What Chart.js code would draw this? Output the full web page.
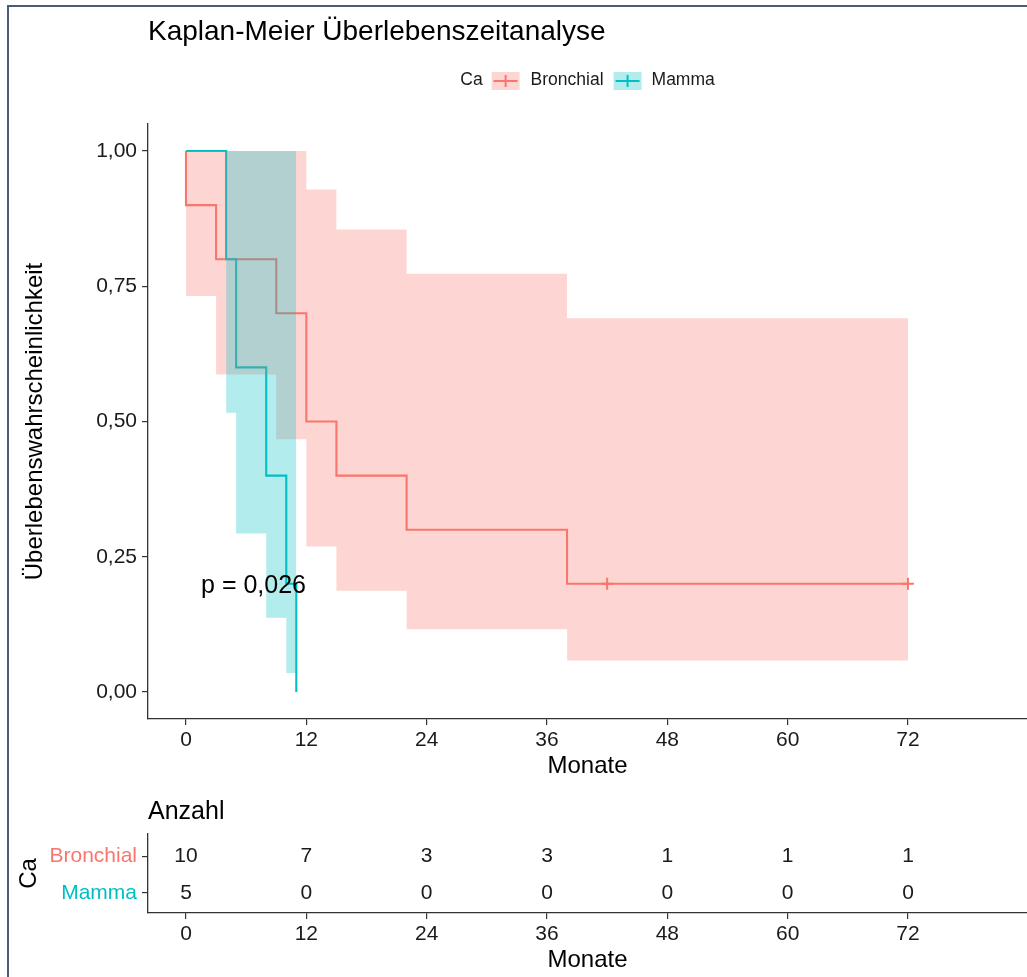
<!DOCTYPE html>
<html><head><meta charset="utf-8">
<script src="https://cdn.jsdelivr.net/npm/chart.js@4.4.1/dist/chart.umd.min.js"></script>
<style>
html,body{margin:0;padding:0;background:#fff;}
body{width:1027px;height:977px;position:relative;overflow:hidden;}
#frame{position:absolute;left:7px;top:5px;width:1100px;height:1100px;border-left:2px solid #4b5b73;border-top:2px solid #4b5b73;}
#main{position:absolute;left:0;top:0;}
#risk{position:absolute;left:0;top:790px;}
</style></head><body>
<div id="frame"></div>
<canvas id="main" width="1027" height="790"></canvas>
<canvas id="risk" width="1027" height="187"></canvas>
<script>
// ---------- data ----------
const chartTitle = 'Kaplan-Meier Überlebenszeitanalyse';
const legendTitle = 'Ca';
const groups = ['Bronchial', 'Mamma'];
const groupColors = ['#F8766D', '#00BFC4'];
const bandColors = ['rgba(248,118,109,0.3)', 'rgba(0,191,196,0.3)'];

const bronchialTimes = [0, 0, 3, 9, 12, 15, 22, 38, 72];
const bronchialSurv  = [1, 0.9, 0.8, 0.7, 0.5, 0.4, 0.3, 0.2, 0.2];
const bronchialBandTimes = [0, 3, 9, 12, 15, 22, 38, 72];
const bronchialUpper = [1, 1, 1, 0.929, 0.855, 0.773, 0.691, 0.691];
const bronchialLower = [0.732, 0.587, 0.467, 0.269, 0.187, 0.116, 0.058, 0.058];
const bronchialCensorTimes = [42, 72];
const bronchialCensorSurv  = [0.2, 0.2];

const mammaTimes = [0, 4, 5, 8, 10, 11];
const mammaSurv  = [1, 0.8, 0.6, 0.4, 0.2, 0];
const mammaBandTimes = [4, 5, 8, 10, 11];
const mammaUpper = [1, 1, 1, 1, 1];
const mammaLower = [0.516, 0.293, 0.137, 0.035, 0.035];

const xTicks = [0, 12, 24, 36, 48, 60, 72];
const xTickLabels = ['0', '12', '24', '36', '48', '60', '72'];
const yTicks = [0, 0.25, 0.5, 0.75, 1];
const yTickLabels = ['0,00', '0,25', '0,50', '0,75', '1,00'];
const xTitle = 'Monate';
const yTitle = 'Überlebenswahrscheinlichkeit';

const riskTitle = 'Anzahl';
const riskBronchial = [10, 7, 3, 3, 1, 1, 1];
const riskMamma = [5, 0, 0, 0, 0, 0, 0];

const pText = 'p = 0,026';
const pPos = [1.5, 0.195];

// ---------- helpers ----------
const FONT = "'Liberation Sans', Arial, sans-serif";
Chart.defaults.font.family = FONT;
Chart.defaults.color = '#1a1a1a';
const pts = (xs, ys) => xs.map((x, i) => ({x: x, y: ys[i]}));
const AXIS = '#333333';

function mkTicks(vals) { return s => { s.ticks = vals.map(v => ({value: v})); }; }

// ---------- main chart ----------
const decorPlugin = {
  id: 'kmDecor',
  afterDraw(chart) {
    const ctx = chart.ctx, a = chart.chartArea;
    const xs = chart.scales.x, ys = chart.scales.y;
    ctx.save();
    // title
    ctx.fillStyle = '#000';
    ctx.font = '28px ' + FONT;
    ctx.textAlign = 'left';
    ctx.textBaseline = 'middle';
    ctx.fillText(chartTitle, a.left, 32);
    // legend
    ctx.font = '17.5px ' + FONT;
    const keyW = 28, keyH = 18, cy = 80;
    const wCa = ctx.measureText(legendTitle).width;
    const wLab = groups.map(g => ctx.measureText(g).width);
    const total = wCa + 9 + (keyW + 11) + wLab[0] + 10 + (keyW + 10) + wLab[1];
    let x = (a.left + a.right) / 2 - total / 2;
    ctx.fillStyle = '#1a1a1a';
    ctx.fillText(legendTitle, x, cy);
    x += wCa + 9;
    groups.forEach((g, i) => {
      ctx.fillStyle = bandColors[i];
      ctx.fillRect(x, cy - keyH / 2 + 1, keyW, keyH);
      ctx.strokeStyle = groupColors[i];
      ctx.lineWidth = 2;
      ctx.beginPath();
      ctx.moveTo(x + 2, cy + 1); ctx.lineTo(x + keyW - 2, cy + 1);
      ctx.moveTo(x + keyW / 2, cy - 5); ctx.lineTo(x + keyW / 2, cy + 7);
      ctx.stroke();
      x += keyW + (i === 0 ? 11 : 10);
      ctx.fillStyle = '#1a1a1a';
      ctx.fillText(g, x, cy);
      x += wLab[i] + 10;
    });
    // p value
    ctx.fillStyle = '#000';
    ctx.font = '25px ' + FONT;
    ctx.fillText(pText, xs.getPixelForValue(pPos[0]), ys.getPixelForValue(pPos[1]));
    ctx.restore();
  }
};

const noBorder = 'rgba(0,0,0,0)';
new Chart(document.getElementById('main'), {
  type: 'line',
  data: {
    datasets: [
      { label: 'Bronchial zensiert', data: pts(bronchialCensorTimes, bronchialCensorSurv), showLine: false,
        pointStyle: 'cross', pointRadius: 6, pointBorderWidth: 2, borderColor: groupColors[0], backgroundColor: groupColors[0] },
      { label: 'Mamma KI oben', data: pts(mammaBandTimes, mammaUpper), stepped: true, pointRadius: 0,
        borderColor: noBorder, borderWidth: 0, backgroundColor: bandColors[1], fill: '+1' },
      { label: 'Mamma KI unten', data: pts(mammaBandTimes, mammaLower), stepped: true, pointRadius: 0,
        borderColor: noBorder, borderWidth: 0, fill: false },
      { label: 'Bronchial KI oben', data: pts(bronchialBandTimes, bronchialUpper), stepped: true, pointRadius: 0,
        borderColor: noBorder, borderWidth: 0, backgroundColor: bandColors[0], fill: '+1' },
      { label: 'Bronchial KI unten', data: pts(bronchialBandTimes, bronchialLower), stepped: true, pointRadius: 0,
        borderColor: noBorder, borderWidth: 0, fill: false },
      { label: 'Mamma', data: pts(mammaTimes, mammaSurv), stepped: true, pointRadius: 0,
        borderColor: groupColors[1], borderWidth: 2.1, fill: false },
      { label: 'Bronchial', data: pts(bronchialTimes, bronchialSurv), stepped: true, pointRadius: 0,
        borderColor: groupColors[0], borderWidth: 2.1, fill: false }
    ]
  },
  options: {
    responsive: false, animation: false, events: [], devicePixelRatio: 1,
    layout: { autoPadding: false, padding: { top: 124, left: 0, right: 0, bottom: 0 } },
    plugins: { legend: { display: false }, tooltip: { enabled: false } },
    scales: {
      x: {
        type: 'linear', min: -3.79, max: 83.87,
        afterBuildTicks: mkTicks(xTicks),
        afterFit: s => { s.height = 71; },
        ticks: { font: { size: 21 }, color: '#1a1a1a', padding: 3, maxRotation: 0,
                 callback: (v) => xTickLabels[xTicks.indexOf(v)] },
        grid: { display: true, drawOnChartArea: false, drawTicks: true, tickLength: 6, color: AXIS, lineWidth: 1.2 },
        border: { display: true, color: AXIS, width: 1.3 },
        title: { display: true, text: xTitle, font: { size: 24 }, color: '#000', padding: { top: 0, bottom: 9 } }
      },
      y: {
        type: 'linear', min: -0.05, max: 1.05,
        afterBuildTicks: mkTicks(yTicks),
        afterFit: s => { s.width = 148; },
        ticks: { font: { size: 21 }, color: '#1a1a1a', padding: 5,
                 callback: (v) => yTickLabels[yTicks.indexOf(v)] },
        grid: { display: true, drawOnChartArea: false, drawTicks: true, tickLength: 6, color: AXIS, lineWidth: 1.2 },
        border: { display: true, color: AXIS, width: 1.3 },
        title: { display: true, text: yTitle, font: { size: 24 }, color: '#000', padding: { top: 21, bottom: 0 } }
      }
    }
  },
  plugins: [decorPlugin]
});

// ---------- risk table ----------
const riskRows = [2, 1]; // row positions for groups
const riskData = [riskBronchial, riskMamma];
const riskPlugin = {
  id: 'riskText',
  afterDraw(chart) {
    const ctx = chart.ctx, a = chart.chartArea;
    const xs = chart.scales.x, ys = chart.scales.y;
    ctx.save();
    ctx.fillStyle = '#000';
    ctx.font = '25px ' + FONT;
    ctx.textAlign = 'left';
    ctx.textBaseline = 'middle';
    ctx.fillText(riskTitle, a.left, a.top - 22);
    ctx.font = '21px ' + FONT;
    ctx.textAlign = 'center';
    ctx.fillStyle = '#1a1a1a';
    riskData.forEach((row, gi) => {
      row.forEach((n, i) => {
        ctx.fillText(String(n), xs.getPixelForValue(xTicks[i]), ys.getPixelForValue(riskRows[gi]));
      });
    });
    ctx.restore();
  }
};

new Chart(document.getElementById('risk'), {
  type: 'line',
  data: { datasets: [{ label: 'leer', data: [], pointRadius: 0 }] },
  options: {
    responsive: false, animation: false, events: [], devicePixelRatio: 1,
    layout: { autoPadding: false, padding: { top: 44, left: 0, right: 0, bottom: 0 } },
    plugins: { legend: { display: false }, tooltip: { enabled: false } },
    scales: {
      x: {
        type: 'linear', min: -3.79, max: 83.87,
        afterBuildTicks: mkTicks(xTicks),
        afterFit: s => { s.height = 64; },
        ticks: { font: { size: 21 }, color: '#1a1a1a', padding: 3, maxRotation: 0,
                 callback: (v) => xTickLabels[xTicks.indexOf(v)] },
        grid: { display: true, drawOnChartArea: false, drawTicks: true, tickLength: 6, color: AXIS, lineWidth: 1.2 },
        border: { display: true, color: AXIS, width: 1.3 },
        title: { display: true, text: xTitle, font: { size: 24 }, color: '#000', padding: { top: 0, bottom: 2 } }
      },
      y: {
        type: 'linear', min: 0.46, max: 2.6,
        afterBuildTicks: mkTicks(riskRows),
        afterFit: s => { s.width = 148; },
        ticks: { font: { size: 21 }, padding: 5,
                 color: (c) => groupColors[riskRows.indexOf(c.tick ? c.tick.value : 2)],
                 callback: (v) => groups[riskRows.indexOf(v)] },
        grid: { display: true, drawOnChartArea: false, drawTicks: true, tickLength: 6, color: AXIS, lineWidth: 1.2 },
        border: { display: true, color: AXIS, width: 1.3 },
        title: { display: true, text: legendTitle, font: { size: 24 }, color: '#000', padding: { top: 15, bottom: 0 } }
      }
    }
  },
  plugins: [riskPlugin]
});
</script>
</body></html>
